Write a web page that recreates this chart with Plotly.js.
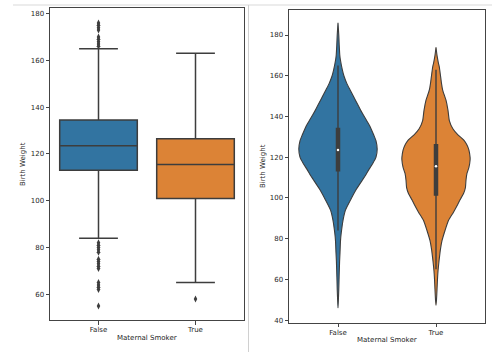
<!DOCTYPE html>
<html><head><meta charset="utf-8">
<script src="https://cdn.plot.ly/plotly-3.0.1.min.js"></script>
<style>html,body{margin:0;padding:0;background:#fff;}#chart{width:499px;height:352px;}</style>
</head><body><div id="chart"></div>
<script>
// ---- data ----
const categories = ['False', 'True'];
const q1 = [113, 101];
const medians = [123.5, 115.5];
const q3 = [134.5, 126.5];
const lowerWhisker = [84, 65];
const upperWhisker = [165, 163];
const outliersFalse = [166, 167, 168, 169, 170, 173, 174, 175, 176, 82, 81, 80, 79, 78, 75, 74, 73, 72, 71, 65, 64, 63, 62, 55];
const outliersTrue = [58];

// violin density profiles (relative, max = 100)
const violinYFalse = [46, 50, 55, 61, 69, 73, 79, 83, 89, 94, 99, 104, 108.7, 111, 114, 117, 120, 124, 128, 131, 135, 138, 141, 143, 146, 150, 153, 156, 160, 163, 168, 170, 175, 180, 186];
const violinDensityFalse = [0, 1, 2, 2.8, 4.1, 5.1, 6.4, 8.4, 12.8, 19, 32, 46, 62, 70, 79, 89, 97, 100, 97, 91, 82, 73, 64, 58, 50, 39, 31, 23, 15, 11, 6, 4.6, 3.1, 2, 0];
const violinYTrue = [47.3, 50, 55, 60, 64, 69, 75, 79, 84, 89, 93, 97, 99, 102, 105, 108.7, 112, 115, 118.6, 120, 123.5, 126, 128.4, 131, 134, 138, 143, 148, 153, 156.3, 160, 164.4, 166, 170, 174];
const violinDensityTrue = [0, 1.3, 2.6, 3.8, 5.1, 7.7, 11.5, 15.3, 23, 32, 44.6, 56, 61, 70, 75, 76.5, 79, 84, 87, 87, 84, 79, 71, 56, 43, 34, 30.6, 25.5, 17, 14, 11.5, 8.4, 6.4, 2.6, 0];

const yTicksLeft = [60, 80, 100, 120, 140, 160, 180];
const yTicksRight = [40, 60, 80, 100, 120, 140, 160, 180];

// ---- styles ----
const colors = ['#3274a1', '#dc8336'];
const edge = '#3d3d3d';
const W = 499, H = 352;
const px = v => v / W, py = v => 1 - v / H;

const traces = [];
// box plots
categories.forEach((c, i) => {
  traces.push({
    type: 'box', x: [i], q1: [q1[i]], median: [medians[i]], q3: [q3[i]],
    lowerfence: [lowerWhisker[i]], upperfence: [upperWhisker[i]],
    width: 0.8, whiskerwidth: 0.5, boxpoints: false,
    fillcolor: colors[i], line: {color: edge, width: 1.5},
    xaxis: 'x', yaxis: 'y', hoverinfo: 'skip', showlegend: false
  });
});
const outX = outliersFalse.map(() => 0).concat(outliersTrue.map(() => 1));
traces.push({
  type: 'scatter', mode: 'markers', x: outX, y: outliersFalse.concat(outliersTrue),
  marker: {symbol: 'diamond-tall', size: 5, color: edge},
  xaxis: 'x', yaxis: 'y', hoverinfo: 'skip', showlegend: false
});

// violins
const vY = [violinYFalse, violinYTrue];
const vD = [violinDensityFalse, violinDensityTrue];
categories.forEach((c, i) => {
  const ys = vY[i], ds = vD[i];
  const xs = [], yy = [];
  for (let k = 0; k < ys.length; k++) { xs.push(i + ds[k] / 100 * 0.4); yy.push(ys[k]); }
  for (let k = ys.length - 1; k >= 0; k--) { xs.push(i - ds[k] / 100 * 0.4); yy.push(ys[k]); }
  traces.push({
    type: 'scatter', mode: 'lines', x: xs, y: yy, fill: 'toself', fillcolor: colors[i],
    line: {color: edge, width: 1.1, shape: 'spline', smoothing: 0.5},
    xaxis: 'x2', yaxis: 'y2', hoverinfo: 'skip', showlegend: false
  });
  traces.push({
    type: 'scatter', mode: 'lines', x: [i, i], y: [lowerWhisker[i], upperWhisker[i]],
    line: {color: edge, width: 1.4}, xaxis: 'x2', yaxis: 'y2', hoverinfo: 'skip', showlegend: false
  });
  traces.push({
    type: 'scatter', mode: 'lines', x: [i, i], y: [q1[i], q3[i]],
    line: {color: edge, width: 4.5}, xaxis: 'x2', yaxis: 'y2', hoverinfo: 'skip', showlegend: false
  });
  traces.push({
    type: 'scatter', mode: 'markers', x: [i], y: [medians[i]],
    marker: {color: '#ffffff', size: 2.5}, xaxis: 'x2', yaxis: 'y2', hoverinfo: 'skip', showlegend: false
  });
});

const tickFont = {family: 'DejaVu Sans', size: 7, color: '#262626'};
const axBase = {
  showline: true, mirror: true, linecolor: '#444', linewidth: 1,
  ticks: 'outside', ticklen: 3.5, tickwidth: 1, tickcolor: '#444',
  showgrid: false, zeroline: false, tickfont: tickFont, fixedrange: true
};

const layout = {
  width: W, height: H, margin: {l: 0, r: 0, t: 0, b: 0},
  paper_bgcolor: '#fff', plot_bgcolor: '#fff', showlegend: false,
  xaxis: Object.assign({}, axBase, {domain: [px(50), px(244)], range: [-0.5, 1.5], tickvals: [0, 1], ticktext: categories, anchor: 'y', ticklabelstandoff: -1}),
  yaxis: Object.assign({}, axBase, {domain: [py(320), py(8)], range: [49, 182.4], tickvals: yTicksLeft, anchor: 'x'}),
  xaxis2: Object.assign({}, axBase, {domain: [px(289), px(485)], range: [-0.5, 1.5], tickvals: [0, 1], ticktext: categories, anchor: 'y2', ticklabelstandoff: -1}),
  yaxis2: Object.assign({}, axBase, {domain: [py(322.7), py(10)], range: [38.7, 192.3], tickvals: yTicksRight, anchor: 'x2'}),
  shapes: [
    {type: 'line', xref: 'paper', yref: 'paper', x0: px(13), x1: px(492), y0: py(5), y1: py(5), line: {color: '#d9d9d9', width: 1}},
    {type: 'line', xref: 'paper', yref: 'paper', x0: px(248.5), x1: px(248.5), y0: py(5), y1: py(352), line: {color: '#d0d0d0', width: 1}}
  ],
  annotations: [
    {text: 'Birth Weight', xref: 'paper', yref: 'paper', x: px(23), y: py(164), textangle: -90, showarrow: false, font: tickFont, xanchor: 'center', yanchor: 'middle'},
    {text: 'Maternal Smoker', xref: 'paper', yref: 'paper', x: px(147), y: py(338), showarrow: false, font: tickFont, xanchor: 'center', yanchor: 'middle'},
    {text: 'Birth Weight', xref: 'paper', yref: 'paper', x: px(263), y: py(166), textangle: -90, showarrow: false, font: tickFont, xanchor: 'center', yanchor: 'middle'},
    {text: 'Maternal Smoker', xref: 'paper', yref: 'paper', x: px(387), y: py(340), showarrow: false, font: tickFont, xanchor: 'center', yanchor: 'middle'}
  ]
};

Plotly.newPlot('chart', traces, layout, {staticPlot: true, displayModeBar: false});
</script>
</body></html>
